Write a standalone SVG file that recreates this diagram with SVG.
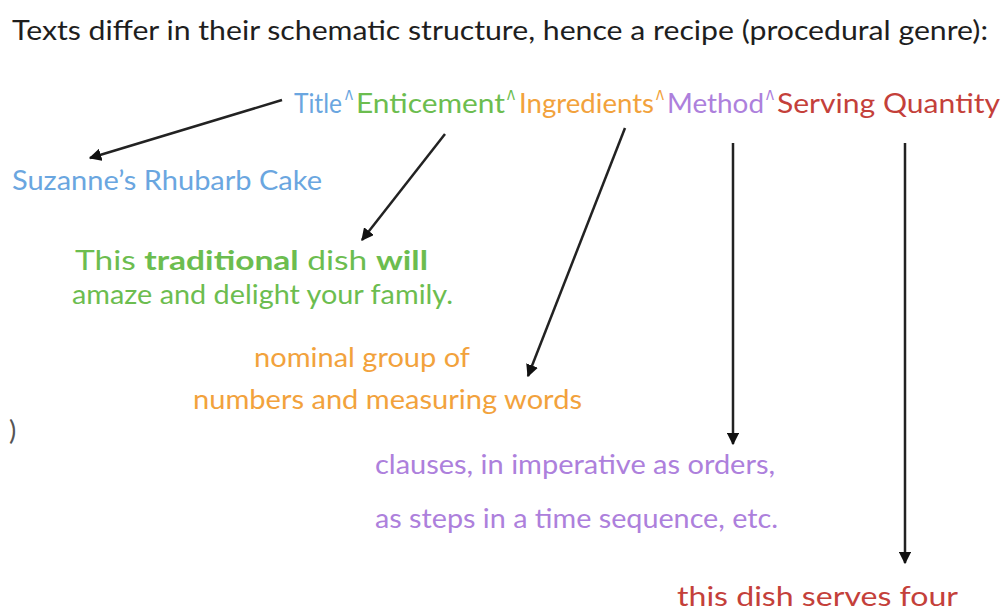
<svg xmlns="http://www.w3.org/2000/svg" width="1006" height="612" viewBox="0 0 1006 612">
<style>
text{font-family:Lato,"Open Sans","Liberation Sans",sans-serif;font-size:27px}
.hd{fill:#1e1e1e}
.bl{fill:#6aa6e0}
.gr{fill:#6cbd4f}
.or{fill:#f2a23c}
.pu{fill:#ad80dc}
.rd{fill:#c4403a}
.b{font-weight:bold}
.ct{font-family:"Liberation Sans",Arial,sans-serif;font-size:27px}
.cn{stroke:#222;stroke-width:2.5;fill:none;marker-end:url(#ah)}
</style>
<defs>
<marker id="ah" viewBox="0 0 10 10" refX="9" refY="5" markerWidth="5" markerHeight="5" orient="auto" markerUnits="strokeWidth">
<path d="M0,0 L10,5 L0,10 z" fill="#111"/>
</marker>
</defs>
<rect width="1006" height="612" fill="#fff"/>
<g id="heading">
<text class="hd" x="12" y="40" textLength="976" lengthAdjust="spacingAndGlyphs">Texts differ in their schematic structure, hence a recipe (procedural genre):</text>
</g>
<g id="structure">
<text y="113" font-size="28"><tspan class="bl" x="294" textLength="48" lengthAdjust="spacingAndGlyphs">Title</tspan><tspan class="bl ct" x="345" y="109" textLength="8" lengthAdjust="spacingAndGlyphs">^</tspan><tspan class="gr" x="356" y="113" textLength="149" lengthAdjust="spacingAndGlyphs">Enticement</tspan><tspan class="gr ct" x="507" y="109" textLength="8" lengthAdjust="spacingAndGlyphs">^</tspan><tspan class="or" x="519" y="113" textLength="135" lengthAdjust="spacingAndGlyphs">Ingredients</tspan><tspan class="or ct" x="656" y="109" textLength="8" lengthAdjust="spacingAndGlyphs">^</tspan><tspan class="pu" x="667" y="113" textLength="97" lengthAdjust="spacingAndGlyphs">Method</tspan><tspan class="pu ct" x="766" y="109" textLength="8" lengthAdjust="spacingAndGlyphs">^</tspan><tspan class="rd" x="777" y="113" textLength="223" lengthAdjust="spacingAndGlyphs">Serving Quantity</tspan></text>
</g>
<g id="title-node">
<text class="bl" x="12" y="190" textLength="310" lengthAdjust="spacingAndGlyphs">Suzanne’s Rhubarb Cake</text>
</g>
<g id="enticement-node">
<text class="gr" x="75" y="270" textLength="353" lengthAdjust="spacingAndGlyphs">This <tspan class="b">traditional</tspan> dish <tspan class="b">will</tspan></text>
<text class="gr" x="72" y="304" textLength="381" lengthAdjust="spacingAndGlyphs">amaze and delight your family.</text>
</g>
<g id="ingredients-node">
<text class="or" x="254" y="367" textLength="216" lengthAdjust="spacingAndGlyphs">nominal group of</text>
<text class="or" x="193" y="409" textLength="389" lengthAdjust="spacingAndGlyphs">numbers and measuring words</text>
</g>
<g id="method-node">
<text class="pu" x="375" y="474" textLength="400" lengthAdjust="spacingAndGlyphs">clauses, in imperative as orders,</text>
<text class="pu" x="375" y="528" textLength="403" lengthAdjust="spacingAndGlyphs">as steps in a time sequence, etc.</text>
</g>
<g id="serving-node">
<text class="rd" x="677" y="606" textLength="281" lengthAdjust="spacingAndGlyphs">this dish serves four</text>
</g>
<g id="stray">
<text x="9" y="440" font-size="14" fill="#555">)</text>
</g>
<g id="connectors">
<line class="cn" x1="282" y1="100" x2="90" y2="158"/>
<line class="cn" x1="445" y1="134" x2="362" y2="240"/>
<line class="cn" x1="625" y1="128" x2="528" y2="376"/>
<line class="cn" x1="733" y1="143" x2="733" y2="444"/>
<line class="cn" x1="905" y1="143" x2="905" y2="563"/>
</g>
</svg>
